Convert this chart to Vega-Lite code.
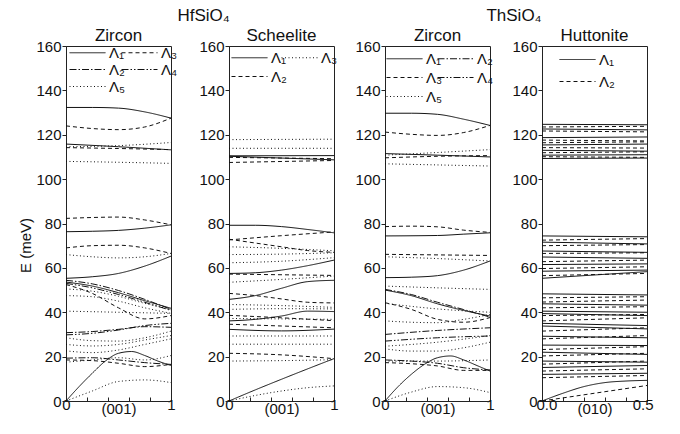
{
  "$schema": "https://vega.github.io/schema/vega-lite/v6.json",
  "padding": {"left": 18, "top": 6, "right": 5, "bottom": 5},
  "config": {
    "font": "Liberation Sans",
    "view": {"stroke": "#222", "strokeWidth": 1},
    "axis": {"grid": false, "domainColor": "#222", "tickColor": "#222", "labelColor": "#111", "labelFontSize": 15, "labelFlush": false, "labelOverlap": false, "titleFontWeight": "normal", "titleFontSize": 15, "titleColor": "#111"},
    "title": {"fontSize": 17, "fontWeight": "normal", "color": "#111", "offset": -6},
    "legend": {"orient": "none", "title": null, "labelFontSize": 15, "labelColor": "#111", "symbolStrokeWidth": 1, "symbolStrokeColor": "#111", "symbolSize": 144, "labelOffset": 2, "rowPadding": 1, "symbolType": "M-5,0H1"},
    "line": {"color": "#111", "strokeWidth": 1, "interpolate": "monotone"}
  },
  "datasets": {
    "p1": [
      {"i":"a1","b":"Λ₁","k":0,"E":132.3},{"i":"a1","b":"Λ₁","k":0.25,"E":132.3},{"i":"a1","b":"Λ₁","k":0.5,"E":132},{"i":"a1","b":"Λ₁","k":0.75,"E":130.3},{"i":"a1","b":"Λ₁","k":1,"E":127.5},
      {"i":"a2","b":"Λ₃","k":0,"E":124},{"i":"a2","b":"Λ₃","k":0.25,"E":122.8},{"i":"a2","b":"Λ₃","k":0.5,"E":122.3},{"i":"a2","b":"Λ₃","k":0.75,"E":123.5},{"i":"a2","b":"Λ₃","k":1,"E":127.5},
      {"i":"a3","b":"Λ₁","k":0,"E":115.8},{"i":"a3","b":"Λ₁","k":0.5,"E":114.6},{"i":"a3","b":"Λ₁","k":1,"E":113.2},
      {"i":"a4","b":"Λ₃","k":0,"E":114.2},{"i":"a4","b":"Λ₃","k":0.5,"E":113.8},{"i":"a4","b":"Λ₃","k":1,"E":113.3},
      {"i":"a5","b":"Λ₅","k":0,"E":114.6},{"i":"a5","b":"Λ₅","k":0.5,"E":115.1},{"i":"a5","b":"Λ₅","k":1,"E":116.5},
      {"i":"a6","b":"Λ₅","k":0,"E":108},{"i":"a6","b":"Λ₅","k":0.5,"E":107.6},{"i":"a6","b":"Λ₅","k":1,"E":107.1},
      {"i":"a7","b":"Λ₃","k":0,"E":82.3},{"i":"a7","b":"Λ₃","k":0.25,"E":82.7},{"i":"a7","b":"Λ₃","k":0.5,"E":82.9},{"i":"a7","b":"Λ₃","k":0.75,"E":81.6},{"i":"a7","b":"Λ₃","k":1,"E":79.4},
      {"i":"a8","b":"Λ₁","k":0,"E":76.3},{"i":"a8","b":"Λ₁","k":0.25,"E":76.5},{"i":"a8","b":"Λ₁","k":0.5,"E":76.9},{"i":"a8","b":"Λ₁","k":0.75,"E":77.9},{"i":"a8","b":"Λ₁","k":1,"E":79.4},
      {"i":"a9","b":"Λ₃","k":0,"E":69},{"i":"a9","b":"Λ₃","k":0.25,"E":70},{"i":"a9","b":"Λ₃","k":0.5,"E":70.2},{"i":"a9","b":"Λ₃","k":0.75,"E":69},{"i":"a9","b":"Λ₃","k":1,"E":66.5},
      {"i":"a10","b":"Λ₅","k":0,"E":66},{"i":"a10","b":"Λ₅","k":0.25,"E":65},{"i":"a10","b":"Λ₅","k":0.5,"E":64.5},{"i":"a10","b":"Λ₅","k":0.75,"E":65},{"i":"a10","b":"Λ₅","k":1,"E":66.5},
      {"i":"a11","b":"Λ₁","k":0,"E":55.3},{"i":"a11","b":"Λ₁","k":0.25,"E":56},{"i":"a11","b":"Λ₁","k":0.5,"E":57.5},{"i":"a11","b":"Λ₁","k":0.75,"E":60.8},{"i":"a11","b":"Λ₁","k":1,"E":65.3},
      {"i":"a12","b":"Λ₁","k":0,"E":53.6},{"i":"a12","b":"Λ₁","k":0.25,"E":51.8},{"i":"a12","b":"Λ₁","k":0.5,"E":48.8},{"i":"a12","b":"Λ₁","k":0.75,"E":45.2},{"i":"a12","b":"Λ₁","k":1,"E":41.8},
      {"i":"a13","b":"Λ₂","k":0,"E":54.4},{"i":"a13","b":"Λ₂","k":0.25,"E":52.8},{"i":"a13","b":"Λ₂","k":0.5,"E":49.8},{"i":"a13","b":"Λ₂","k":0.75,"E":45.8},{"i":"a13","b":"Λ₂","k":1,"E":41.3},
      {"i":"a14","b":"Λ₃","k":0,"E":52.5},{"i":"a14","b":"Λ₃","k":0.25,"E":48.5},{"i":"a14","b":"Λ₃","k":0.5,"E":42},{"i":"a14","b":"Λ₃","k":0.75,"E":37},{"i":"a14","b":"Λ₃","k":1,"E":38.5},
      {"i":"a15","b":"Λ₅","k":0,"E":50.5},{"i":"a15","b":"Λ₅","k":0.25,"E":49.5},{"i":"a15","b":"Λ₅","k":0.5,"E":47.2},{"i":"a15","b":"Λ₅","k":0.75,"E":44},{"i":"a15","b":"Λ₅","k":1,"E":41.3},
      {"i":"a16","b":"Λ₄","k":0,"E":53},{"i":"a16","b":"Λ₄","k":0.25,"E":51},{"i":"a16","b":"Λ₄","k":0.5,"E":48},{"i":"a16","b":"Λ₄","k":0.75,"E":44.5},{"i":"a16","b":"Λ₄","k":1,"E":40.8},
      {"i":"a17","b":"Λ₅","k":0,"E":47.5},{"i":"a17","b":"Λ₅","k":0.25,"E":47},{"i":"a17","b":"Λ₅","k":0.5,"E":45},{"i":"a17","b":"Λ₅","k":0.75,"E":42},{"i":"a17","b":"Λ₅","k":1,"E":39.5},
      {"i":"a18","b":"Λ₅","k":0,"E":40.5},{"i":"a18","b":"Λ₅","k":0.5,"E":40},{"i":"a18","b":"Λ₅","k":1,"E":39.5},
      {"i":"a19","b":"Λ₂","k":0,"E":30.8},{"i":"a19","b":"Λ₂","k":0.25,"E":31.3},{"i":"a19","b":"Λ₂","k":0.5,"E":32.3},{"i":"a19","b":"Λ₂","k":0.75,"E":33.5},{"i":"a19","b":"Λ₂","k":1,"E":33.2},
      {"i":"a20","b":"Λ₄","k":0,"E":29.8},{"i":"a20","b":"Λ₄","k":0.25,"E":30.5},{"i":"a20","b":"Λ₄","k":0.5,"E":32},{"i":"a20","b":"Λ₄","k":0.75,"E":34},{"i":"a20","b":"Λ₄","k":1,"E":35},
      {"i":"a21","b":"Λ₅","k":0,"E":28.5},{"i":"a21","b":"Λ₅","k":0.25,"E":27.2},{"i":"a21","b":"Λ₅","k":0.5,"E":27},{"i":"a21","b":"Λ₅","k":0.75,"E":28.5},{"i":"a21","b":"Λ₅","k":1,"E":31.5},
      {"i":"a22","b":"Λ₅","k":0,"E":25.5},{"i":"a22","b":"Λ₅","k":0.25,"E":24.8},{"i":"a22","b":"Λ₅","k":0.5,"E":25.5},{"i":"a22","b":"Λ₅","k":0.75,"E":27.5},{"i":"a22","b":"Λ₅","k":1,"E":29.5},
      {"i":"a23","b":"Λ₅","k":0,"E":22.6},{"i":"a23","b":"Λ₅","k":0.25,"E":21.8},{"i":"a23","b":"Λ₅","k":0.5,"E":23},{"i":"a23","b":"Λ₅","k":0.75,"E":25.5},{"i":"a23","b":"Λ₅","k":1,"E":28},
      {"i":"a24","b":"Λ₃","k":0,"E":18.5},{"i":"a24","b":"Λ₃","k":0.25,"E":18.2},{"i":"a24","b":"Λ₃","k":0.5,"E":17},{"i":"a24","b":"Λ₃","k":0.75,"E":15.5},{"i":"a24","b":"Λ₃","k":1,"E":16.5},
      {"i":"a25","b":"Λ₂","k":0,"E":19.3},{"i":"a25","b":"Λ₂","k":0.25,"E":19.5},{"i":"a25","b":"Λ₂","k":0.5,"E":18.5},{"i":"a25","b":"Λ₂","k":0.75,"E":17.3},{"i":"a25","b":"Λ₂","k":1,"E":16.5},
      {"i":"a26","b":"Λ₅","k":0,"E":17.5},{"i":"a26","b":"Λ₅","k":0.25,"E":18.5},{"i":"a26","b":"Λ₅","k":0.5,"E":19.5},{"i":"a26","b":"Λ₅","k":0.75,"E":18.5},{"i":"a26","b":"Λ₅","k":1,"E":20.5},
      {"i":"a27","b":"Λ₁","k":0,"E":0},{"i":"a27","b":"Λ₁","k":0.125,"E":6.5},{"i":"a27","b":"Λ₁","k":0.25,"E":12.5},{"i":"a27","b":"Λ₁","k":0.375,"E":18},{"i":"a27","b":"Λ₁","k":0.5,"E":21.5},{"i":"a27","b":"Λ₁","k":0.625,"E":22.3},{"i":"a27","b":"Λ₁","k":0.75,"E":20.5},{"i":"a27","b":"Λ₁","k":0.875,"E":18},{"i":"a27","b":"Λ₁","k":1,"E":16},
      {"i":"a28","b":"Λ₅","k":0,"E":0},{"i":"a28","b":"Λ₅","k":0.25,"E":4.5},{"i":"a28","b":"Λ₅","k":0.5,"E":8.8},{"i":"a28","b":"Λ₅","k":0.75,"E":9.5},{"i":"a28","b":"Λ₅","k":1,"E":8.3}
    ],
    "p2": [
      {"i":"b1","b":"Λ₃","k":0,"E":117.8},{"i":"b1","b":"Λ₃","k":1,"E":118},
      {"i":"b2","b":"Λ₃","k":0,"E":113.9},{"i":"b2","b":"Λ₃","k":1,"E":113.9},
      {"i":"b3","b":"Λ₁","k":0,"E":110.5},{"i":"b3","b":"Λ₁","k":1,"E":110.6},
      {"i":"b4","b":"Λ₁","k":0,"E":110.3},{"i":"b4","b":"Λ₁","k":0.5,"E":109.5},{"i":"b4","b":"Λ₁","k":1,"E":108.7},
      {"i":"b5","b":"Λ₂","k":0,"E":109.8},{"i":"b5","b":"Λ₂","k":1,"E":109.2},
      {"i":"b6","b":"Λ₂","k":0,"E":107.5},{"i":"b6","b":"Λ₂","k":1,"E":108.4},
      {"i":"b7","b":"Λ₁","k":0,"E":79.2},{"i":"b7","b":"Λ₁","k":0.25,"E":79.2},{"i":"b7","b":"Λ₁","k":0.5,"E":78.6},{"i":"b7","b":"Λ₁","k":0.75,"E":77.3},{"i":"b7","b":"Λ₁","k":1,"E":75.8},
      {"i":"b8","b":"Λ₂","k":0,"E":72.6},{"i":"b8","b":"Λ₂","k":0.5,"E":74.5},{"i":"b8","b":"Λ₂","k":1,"E":76.2},
      {"i":"b9","b":"Λ₂","k":0,"E":72.9},{"i":"b9","b":"Λ₂","k":0.25,"E":71.2},{"i":"b9","b":"Λ₂","k":0.5,"E":69.5},{"i":"b9","b":"Λ₂","k":0.75,"E":67.8},{"i":"b9","b":"Λ₂","k":1,"E":67},
      {"i":"b10","b":"Λ₃","k":0,"E":69.5},{"i":"b10","b":"Λ₃","k":0.5,"E":68.8},{"i":"b10","b":"Λ₃","k":1,"E":67.7},
      {"i":"b11","b":"Λ₃","k":0,"E":66},{"i":"b11","b":"Λ₃","k":0.5,"E":66.2},{"i":"b11","b":"Λ₃","k":1,"E":66.8},
      {"i":"b12","b":"Λ₃","k":0,"E":62.3},{"i":"b12","b":"Λ₃","k":0.5,"E":63},{"i":"b12","b":"Λ₃","k":1,"E":64.6},
      {"i":"b13","b":"Λ₁","k":0,"E":57.5},{"i":"b13","b":"Λ₁","k":0.25,"E":57.8},{"i":"b13","b":"Λ₁","k":0.5,"E":59},{"i":"b13","b":"Λ₁","k":0.75,"E":61},{"i":"b13","b":"Λ₁","k":1,"E":63.5},
      {"i":"b14","b":"Λ₂","k":0,"E":57.2},{"i":"b14","b":"Λ₂","k":1,"E":56.6},
      {"i":"b15","b":"Λ₃","k":0,"E":53.5},{"i":"b15","b":"Λ₃","k":0.5,"E":54.8},{"i":"b15","b":"Λ₃","k":1,"E":56.3},
      {"i":"b16","b":"Λ₁","k":0,"E":45.8},{"i":"b16","b":"Λ₁","k":0.25,"E":47.5},{"i":"b16","b":"Λ₁","k":0.5,"E":50.8},{"i":"b16","b":"Λ₁","k":0.75,"E":53.8},{"i":"b16","b":"Λ₁","k":1,"E":54.4},
      {"i":"b17","b":"Λ₂","k":0,"E":48.5},{"i":"b17","b":"Λ₂","k":0.25,"E":47.5},{"i":"b17","b":"Λ₂","k":0.5,"E":46},{"i":"b17","b":"Λ₂","k":0.75,"E":44.5},{"i":"b17","b":"Λ₂","k":1,"E":44.2},
      {"i":"b18","b":"Λ₃","k":0,"E":43.5},{"i":"b18","b":"Λ₃","k":0.5,"E":43},{"i":"b18","b":"Λ₃","k":1,"E":42.2},
      {"i":"b19","b":"Λ₃","k":0,"E":41.3},{"i":"b19","b":"Λ₃","k":0.5,"E":41.6},{"i":"b19","b":"Λ₃","k":1,"E":41.5},
      {"i":"b20","b":"Λ₁","k":0,"E":36.1},{"i":"b20","b":"Λ₁","k":0.25,"E":36.8},{"i":"b20","b":"Λ₁","k":0.5,"E":38.3},{"i":"b20","b":"Λ₁","k":0.75,"E":40.5},{"i":"b20","b":"Λ₁","k":1,"E":40.3},
      {"i":"b21","b":"Λ₂","k":0,"E":38.6},{"i":"b21","b":"Λ₂","k":0.5,"E":37.5},{"i":"b21","b":"Λ₂","k":1,"E":36.2},
      {"i":"b22","b":"Λ₃","k":0,"E":37.2},{"i":"b22","b":"Λ₃","k":0.5,"E":37},{"i":"b22","b":"Λ₃","k":1,"E":36.8},
      {"i":"b23","b":"Λ₂","k":0,"E":34.6},{"i":"b23","b":"Λ₂","k":0.5,"E":33.8},{"i":"b23","b":"Λ₂","k":1,"E":33},
      {"i":"b24","b":"Λ₁","k":0,"E":32.3},{"i":"b24","b":"Λ₁","k":0.5,"E":31.6},{"i":"b24","b":"Λ₁","k":1,"E":32.4},
      {"i":"b25","b":"Λ₃","k":0,"E":29.3},{"i":"b25","b":"Λ₃","k":1,"E":29.3},
      {"i":"b26","b":"Λ₃","k":0,"E":25.6},{"i":"b26","b":"Λ₃","k":1,"E":25.6},
      {"i":"b27","b":"Λ₂","k":0,"E":21.5},{"i":"b27","b":"Λ₂","k":0.5,"E":20.8},{"i":"b27","b":"Λ₂","k":1,"E":19.1},
      {"i":"b28","b":"Λ₃","k":0,"E":18},{"i":"b28","b":"Λ₃","k":0.5,"E":18.2},{"i":"b28","b":"Λ₃","k":1,"E":18.6},
      {"i":"b29","b":"Λ₁","k":0,"E":0},{"i":"b29","b":"Λ₁","k":0.25,"E":5},{"i":"b29","b":"Λ₁","k":0.5,"E":9.8},{"i":"b29","b":"Λ₁","k":0.75,"E":14.5},{"i":"b29","b":"Λ₁","k":1,"E":19.1},
      {"i":"b30","b":"Λ₃","k":0,"E":0},{"i":"b30","b":"Λ₃","k":0.25,"E":2.5},{"i":"b30","b":"Λ₃","k":0.5,"E":4.5},{"i":"b30","b":"Λ₃","k":0.75,"E":6},{"i":"b30","b":"Λ₃","k":1,"E":6.8}
    ],
    "p3": [
      {"i":"c1","b":"Λ₁","k":0,"E":129.7},{"i":"c1","b":"Λ₁","k":0.25,"E":129.7},{"i":"c1","b":"Λ₁","k":0.5,"E":129.2},{"i":"c1","b":"Λ₁","k":0.75,"E":127},{"i":"c1","b":"Λ₁","k":1,"E":124.2},
      {"i":"c2","b":"Λ₃","k":0,"E":121.2},{"i":"c2","b":"Λ₃","k":0.25,"E":120.2},{"i":"c2","b":"Λ₃","k":0.5,"E":119.7},{"i":"c2","b":"Λ₃","k":0.75,"E":121},{"i":"c2","b":"Λ₃","k":1,"E":124.2},
      {"i":"c3","b":"Λ₁","k":0,"E":111.5},{"i":"c3","b":"Λ₁","k":0.5,"E":110.8},{"i":"c3","b":"Λ₁","k":1,"E":110},
      {"i":"c4","b":"Λ₃","k":0,"E":109.6},{"i":"c4","b":"Λ₃","k":0.5,"E":110.3},{"i":"c4","b":"Λ₃","k":1,"E":110.6},
      {"i":"c5","b":"Λ₅","k":0,"E":110.8},{"i":"c5","b":"Λ₅","k":0.5,"E":112},{"i":"c5","b":"Λ₅","k":1,"E":113.3},
      {"i":"c6","b":"Λ₅","k":0,"E":106.9},{"i":"c6","b":"Λ₅","k":0.5,"E":106.4},{"i":"c6","b":"Λ₅","k":1,"E":105.9},
      {"i":"c7","b":"Λ₃","k":0,"E":78.6},{"i":"c7","b":"Λ₃","k":0.25,"E":78.8},{"i":"c7","b":"Λ₃","k":0.5,"E":78.5},{"i":"c7","b":"Λ₃","k":0.75,"E":77},{"i":"c7","b":"Λ₃","k":1,"E":76},
      {"i":"c8","b":"Λ₁","k":0,"E":74.4},{"i":"c8","b":"Λ₁","k":0.5,"E":74.6},{"i":"c8","b":"Λ₁","k":0.75,"E":75.2},{"i":"c8","b":"Λ₁","k":1,"E":75.8},
      {"i":"c9","b":"Λ₃","k":0,"E":66.1},{"i":"c9","b":"Λ₃","k":1,"E":65.6},
      {"i":"c10","b":"Λ₅","k":0,"E":65},{"i":"c10","b":"Λ₅","k":0.5,"E":64.2},{"i":"c10","b":"Λ₅","k":1,"E":63.1},
      {"i":"c11","b":"Λ₁","k":0,"E":55.6},{"i":"c11","b":"Λ₁","k":0.25,"E":55.8},{"i":"c11","b":"Λ₁","k":0.5,"E":56.5},{"i":"c11","b":"Λ₁","k":0.75,"E":59},{"i":"c11","b":"Λ₁","k":1,"E":63.1},
      {"i":"c12","b":"Λ₅","k":0,"E":51.8},{"i":"c12","b":"Λ₅","k":0.5,"E":51},{"i":"c12","b":"Λ₅","k":1,"E":50.3},
      {"i":"c13","b":"Λ₁","k":0,"E":50},{"i":"c13","b":"Λ₁","k":0.25,"E":47.5},{"i":"c13","b":"Λ₁","k":0.5,"E":43.8},{"i":"c13","b":"Λ₁","k":0.75,"E":40.8},{"i":"c13","b":"Λ₁","k":1,"E":38.3},
      {"i":"c14","b":"Λ₂","k":0,"E":50.3},{"i":"c14","b":"Λ₂","k":0.25,"E":48},{"i":"c14","b":"Λ₂","k":0.5,"E":44.5},{"i":"c14","b":"Λ₂","k":0.75,"E":41.2},{"i":"c14","b":"Λ₂","k":1,"E":37.8},
      {"i":"c15","b":"Λ₃","k":0,"E":44.3},{"i":"c15","b":"Λ₃","k":0.25,"E":41.3},{"i":"c15","b":"Λ₃","k":0.5,"E":36.8},{"i":"c15","b":"Λ₃","k":0.75,"E":35.5},{"i":"c15","b":"Λ₃","k":1,"E":37.6},
      {"i":"c16","b":"Λ₅","k":0,"E":44},{"i":"c16","b":"Λ₅","k":0.5,"E":41.5},{"i":"c16","b":"Λ₅","k":1,"E":40},
      {"i":"c17","b":"Λ₅","k":0,"E":36.1},{"i":"c17","b":"Λ₅","k":0.25,"E":35.5},{"i":"c17","b":"Λ₅","k":0.5,"E":35.3},{"i":"c17","b":"Λ₅","k":0.75,"E":36.8},{"i":"c17","b":"Λ₅","k":1,"E":39},
      {"i":"c18","b":"Λ₂","k":0,"E":30},{"i":"c18","b":"Λ₂","k":0.5,"E":31.8},{"i":"c18","b":"Λ₂","k":1,"E":33},
      {"i":"c19","b":"Λ₄","k":0,"E":27},{"i":"c19","b":"Λ₄","k":0.5,"E":28.5},{"i":"c19","b":"Λ₄","k":1,"E":29.3},
      {"i":"c20","b":"Λ₅","k":0,"E":24.7},{"i":"c20","b":"Λ₅","k":0.5,"E":26.5},{"i":"c20","b":"Λ₅","k":1,"E":29.5},
      {"i":"c21","b":"Λ₅","k":0,"E":23.5},{"i":"c21","b":"Λ₅","k":0.25,"E":22.5},{"i":"c21","b":"Λ₅","k":0.5,"E":22.5},{"i":"c21","b":"Λ₅","k":0.75,"E":24},{"i":"c21","b":"Λ₅","k":1,"E":26.5},
      {"i":"c22","b":"Λ₃","k":0,"E":17.3},{"i":"c22","b":"Λ₃","k":0.25,"E":16.8},{"i":"c22","b":"Λ₃","k":0.5,"E":15.8},{"i":"c22","b":"Λ₃","k":0.75,"E":13.8},{"i":"c22","b":"Λ₃","k":1,"E":13.8},
      {"i":"c23","b":"Λ₂","k":0,"E":18.5},{"i":"c23","b":"Λ₂","k":0.25,"E":18},{"i":"c23","b":"Λ₂","k":0.5,"E":17},{"i":"c23","b":"Λ₂","k":0.75,"E":15},{"i":"c23","b":"Λ₂","k":1,"E":14},
      {"i":"c24","b":"Λ₅","k":0,"E":18},{"i":"c24","b":"Λ₅","k":0.5,"E":18},{"i":"c24","b":"Λ₅","k":1,"E":18.5},
      {"i":"c25","b":"Λ₁","k":0,"E":0},{"i":"c25","b":"Λ₁","k":0.125,"E":6.5},{"i":"c25","b":"Λ₁","k":0.25,"E":12},{"i":"c25","b":"Λ₁","k":0.375,"E":16.5},{"i":"c25","b":"Λ₁","k":0.5,"E":19.5},{"i":"c25","b":"Λ₁","k":0.625,"E":20.3},{"i":"c25","b":"Λ₁","k":0.75,"E":18.5},{"i":"c25","b":"Λ₁","k":0.875,"E":16},{"i":"c25","b":"Λ₁","k":1,"E":13.5},
      {"i":"c26","b":"Λ₅","k":0,"E":0},{"i":"c26","b":"Λ₅","k":0.25,"E":4},{"i":"c26","b":"Λ₅","k":0.5,"E":6.5},{"i":"c26","b":"Λ₅","k":0.75,"E":6},{"i":"c26","b":"Λ₅","k":1,"E":3.8}
    ],
    "p4": [
      {"i":"d1","b":"Λ₁","k":0,"E":124.7},{"i":"d1","b":"Λ₁","k":0.5,"E":124.5},
      {"i":"d2","b":"Λ₂","k":0,"E":123.5},{"i":"d2","b":"Λ₂","k":0.5,"E":123.8},
      {"i":"d3","b":"Λ₁","k":0,"E":122.6},{"i":"d3","b":"Λ₁","k":0.5,"E":122.2},
      {"i":"d4","b":"Λ₂","k":0,"E":121.7},{"i":"d4","b":"Λ₂","k":0.5,"E":121.3},
      {"i":"d5","b":"Λ₁","k":0,"E":118.7},{"i":"d5","b":"Λ₁","k":0.5,"E":119},
      {"i":"d6","b":"Λ₂","k":0,"E":117.6},{"i":"d6","b":"Λ₂","k":0.5,"E":117.2},
      {"i":"d7","b":"Λ₂","k":0,"E":116.4},{"i":"d7","b":"Λ₂","k":0.5,"E":116.8},
      {"i":"d8","b":"Λ₁","k":0,"E":115.4},{"i":"d8","b":"Λ₁","k":0.5,"E":115.8},
      {"i":"d9","b":"Λ₂","k":0,"E":114.2},{"i":"d9","b":"Λ₂","k":0.5,"E":114},
      {"i":"d10","b":"Λ₁","k":0,"E":113},{"i":"d10","b":"Λ₁","k":0.5,"E":112.6},
      {"i":"d11","b":"Λ₂","k":0,"E":111.9},{"i":"d11","b":"Λ₂","k":0.5,"E":112.3},
      {"i":"d12","b":"Λ₁","k":0,"E":110.8},{"i":"d12","b":"Λ₁","k":0.5,"E":111},
      {"i":"d13","b":"Λ₂","k":0,"E":110.1},{"i":"d13","b":"Λ₂","k":0.5,"E":109.8},
      {"i":"d14","b":"Λ₁","k":0,"E":109.3},{"i":"d14","b":"Λ₁","k":0.5,"E":109.5},
      {"i":"e1","b":"Λ₁","k":0,"E":74.4},{"i":"e1","b":"Λ₁","k":0.5,"E":74},
      {"i":"e2","b":"Λ₂","k":0,"E":72.5},{"i":"e2","b":"Λ₂","k":0.5,"E":73.2},
      {"i":"e3","b":"Λ₁","k":0,"E":71.6},{"i":"e3","b":"Λ₁","k":0.5,"E":70.8},
      {"i":"e4","b":"Λ₂","k":0,"E":70},{"i":"e4","b":"Λ₂","k":0.5,"E":70.5},
      {"i":"e5","b":"Λ₁","k":0,"E":67.6},{"i":"e5","b":"Λ₁","k":0.5,"E":67},
      {"i":"e6","b":"Λ₂","k":0,"E":66.5},{"i":"e6","b":"Λ₂","k":0.5,"E":66.8},
      {"i":"e7","b":"Λ₁","k":0,"E":64.9},{"i":"e7","b":"Λ₁","k":0.5,"E":64.3},
      {"i":"e8","b":"Λ₂","k":0,"E":62.8},{"i":"e8","b":"Λ₂","k":0.5,"E":63.5},
      {"i":"e9","b":"Λ₁","k":0,"E":61.5},{"i":"e9","b":"Λ₁","k":0.5,"E":61.8},
      {"i":"e10","b":"Λ₂","k":0,"E":59.7},{"i":"e10","b":"Λ₂","k":0.5,"E":60.5},
      {"i":"e11","b":"Λ₁","k":0,"E":58.5},{"i":"e11","b":"Λ₁","k":0.5,"E":59},
      {"i":"e12","b":"Λ₁","k":0,"E":55.3},{"i":"e12","b":"Λ₁","k":0.5,"E":58.3},
      {"i":"e13","b":"Λ₂","k":0,"E":56.5},{"i":"e13","b":"Λ₂","k":0.5,"E":57.5},
      {"i":"e14","b":"Λ₁","k":0,"E":48.3},{"i":"e14","b":"Λ₁","k":0.5,"E":47.8},
      {"i":"e15","b":"Λ₂","k":0,"E":46.5},{"i":"e15","b":"Λ₂","k":0.5,"E":47},
      {"i":"e16","b":"Λ₂","k":0,"E":44.6},{"i":"e16","b":"Λ₂","k":0.5,"E":45.5},
      {"i":"e17","b":"Λ₁","k":0,"E":43.8},{"i":"e17","b":"Λ₁","k":0.5,"E":43.2},
      {"i":"e18","b":"Λ₂","k":0,"E":42},{"i":"e18","b":"Λ₂","k":0.5,"E":42.5},
      {"i":"e19","b":"Λ₁","k":0,"E":40.5},{"i":"e19","b":"Λ₁","k":0.5,"E":40},
      {"i":"e20","b":"Λ₁","k":0,"E":39.4},{"i":"e20","b":"Λ₁","k":0.5,"E":38.5},
      {"i":"e21","b":"Λ₂","k":0,"E":38.5},{"i":"e21","b":"Λ₂","k":0.5,"E":39},
      {"i":"e22","b":"Λ₂","k":0,"E":36.1},{"i":"e22","b":"Λ₂","k":0.5,"E":37.5},
      {"i":"e23","b":"Λ₁","k":0,"E":35},{"i":"e23","b":"Λ₁","k":0.5,"E":34},
      {"i":"e24","b":"Λ₁","k":0,"E":33.8},{"i":"e24","b":"Λ₁","k":0.5,"E":32.5},
      {"i":"e25","b":"Λ₂","k":0,"E":31.5},{"i":"e25","b":"Λ₂","k":0.5,"E":33},
      {"i":"e26","b":"Λ₁","k":0,"E":29.2},{"i":"e26","b":"Λ₁","k":0.5,"E":28.5},
      {"i":"e27","b":"Λ₂","k":0,"E":28},{"i":"e27","b":"Λ₂","k":0.5,"E":29.5},
      {"i":"e28","b":"Λ₁","k":0,"E":25.2},{"i":"e28","b":"Λ₁","k":0.5,"E":25},
      {"i":"e29","b":"Λ₂","k":0,"E":23.2},{"i":"e29","b":"Λ₂","k":0.5,"E":24.5},
      {"i":"e30","b":"Λ₁","k":0,"E":22},{"i":"e30","b":"Λ₁","k":0.5,"E":21},
      {"i":"e31","b":"Λ₂","k":0,"E":20.3},{"i":"e31","b":"Λ₂","k":0.5,"E":21.5},
      {"i":"e32","b":"Λ₁","k":0,"E":18},{"i":"e32","b":"Λ₁","k":0.5,"E":17.5},
      {"i":"e33","b":"Λ₂","k":0,"E":16.6},{"i":"e33","b":"Λ₂","k":0.5,"E":18},
      {"i":"e34","b":"Λ₁","k":0,"E":15.1},{"i":"e34","b":"Λ₁","k":0.5,"E":16},
      {"i":"e35","b":"Λ₂","k":0,"E":13.5},{"i":"e35","b":"Λ₂","k":0.5,"E":14.5},
      {"i":"e36","b":"Λ₁","k":0,"E":12},{"i":"e36","b":"Λ₁","k":0.5,"E":12.5},
      {"i":"e37","b":"Λ₂","k":0,"E":10.5},{"i":"e37","b":"Λ₂","k":0.5,"E":11.5},
      {"i":"e38","b":"Λ₁","k":0,"E":0},{"i":"e38","b":"Λ₁","k":0.1,"E":3.5},{"i":"e38","b":"Λ₁","k":0.2,"E":6.5},{"i":"e38","b":"Λ₁","k":0.3,"E":8.3},{"i":"e38","b":"Λ₁","k":0.4,"E":9},{"i":"e38","b":"Λ₁","k":0.5,"E":9.3},
      {"i":"e39","b":"Λ₂","k":0,"E":0},{"i":"e39","b":"Λ₂","k":0.25,"E":3.5},{"i":"e39","b":"Λ₂","k":0.5,"E":7}
    ]
  },
  "resolve": {"scale": {"strokeDash": "independent"}, "legend": {"strokeDash": "independent"}},
  "spacing": 15,
  "hconcat": [
    {
      "title": {"text": "HfSiO₄", "anchor": "middle", "dx": 25, "offset": 2},
      "spacing": 19,
      "resolve": {"scale": {"strokeDash": "independent"}, "legend": {"strokeDash": "independent"}},
      "hconcat": [
        {
          "width": 105, "height": 355,
          "title": "Zircon",
          "data": {"name": "p1"},
          "mark": {"type": "line"},
          "encoding": {
            "x": {"field": "k", "type": "quantitative", "scale": {"domain": [0, 1], "nice": false},
                  "axis": {"values": [0, 0.2, 0.4, 0.6, 0.8, 1], "labelExpr": "datum.value==0?'0':datum.value==1?'1':''", "tickSize": -4, "labelPadding": 0, "title": "(001)", "titlePadding": -11}},
            "y": {"field": "E", "type": "quantitative", "scale": {"domain": [0, 160], "nice": false},
                  "axis": {"values": [0, 20, 40, 60, 80, 100, 120, 140, 160], "tickSize": 4, "labelPadding": 1, "title": "E (meV)", "titlePadding": 2, "titleY": 199}},
            "detail": {"field": "i"},
            "strokeDash": {"field": "b", "type": "nominal",
                           "scale": {"domain": ["Λ₁", "Λ₂", "Λ₅", "Λ₃", "Λ₄"], "range": [[1, 0], [7, 2, 1.5, 2], [1, 2.5], [4, 3], [7, 2, 1.5, 2, 1.5, 2]]},
                           "legend": {"columns": 2, "legendX": 26, "legendY": -1, "columnPadding": -7, "rowPadding": 1, "symbolType": "M-5,0H1", "symbolSize": 144}}
          }
        },
        {
          "width": 105, "height": 355,
          "title": "Scheelite",
          "data": {"name": "p2"},
          "mark": {"type": "line"},
          "encoding": {
            "x": {"field": "k", "type": "quantitative", "scale": {"domain": [0, 1], "nice": false},
                  "axis": {"values": [0, 0.2, 0.4, 0.6, 0.8, 1], "labelExpr": "datum.value==0?'0':datum.value==1?'1':''", "tickSize": -4, "labelPadding": 0, "title": "(001)", "titlePadding": -11}},
            "y": {"field": "E", "type": "quantitative", "scale": {"domain": [0, 160], "nice": false},
                  "axis": {"values": [0, 20, 40, 60, 80, 100, 120, 140, 160], "tickSize": 4, "labelPadding": 1, "title": null}},
            "detail": {"field": "i"},
            "strokeDash": {"field": "b", "type": "nominal",
                           "scale": {"domain": ["Λ₁", "Λ₂", "Λ₃"], "range": [[1, 0], [4, 3], [1, 2.5]]},
                           "legend": {"columns": 2, "legendX": 25, "legendY": 4, "columnPadding": -8, "rowPadding": 3, "symbolType": "M-5,0H1", "symbolSize": 144}}
          }
        }
      ]
    },
    {
      "title": {"text": "ThSiO₄", "anchor": "middle", "dx": 10, "offset": 2},
      "spacing": 16,
      "resolve": {"scale": {"strokeDash": "independent"}, "legend": {"strokeDash": "independent"}},
      "hconcat": [
        {
          "width": 105, "height": 355,
          "title": "Zircon",
          "data": {"name": "p3"},
          "mark": {"type": "line"},
          "encoding": {
            "x": {"field": "k", "type": "quantitative", "scale": {"domain": [0, 1], "nice": false},
                  "axis": {"values": [0, 0.2, 0.4, 0.6, 0.8, 1], "labelExpr": "datum.value==0?'0':datum.value==1?'1':''", "tickSize": -4, "labelPadding": 0, "title": "(001)", "titlePadding": -11}},
            "y": {"field": "E", "type": "quantitative", "scale": {"domain": [0, 160], "nice": false},
                  "axis": {"values": [0, 20, 40, 60, 80, 100, 120, 140, 160], "tickSize": 4, "labelPadding": 1, "title": null}},
            "detail": {"field": "i"},
            "strokeDash": {"field": "b", "type": "nominal",
                           "scale": {"domain": ["Λ₁", "Λ₃", "Λ₅", "Λ₂", "Λ₄"], "range": [[1, 0], [4, 3], [1, 2.5], [7, 2, 1.5, 2], [7, 2, 1.5, 2, 1.5, 2]]},
                           "legend": {"columns": 2, "legendX": 24, "legendY": 5, "columnPadding": -8, "rowPadding": 3, "symbolType": "M-5,0H1", "symbolSize": 144}}
          }
        },
        {
          "width": 105, "height": 355,
          "title": "Huttonite",
          "data": {"name": "p4"},
          "mark": {"type": "line"},
          "encoding": {
            "x": {"field": "k", "type": "quantitative", "scale": {"domain": [0, 0.5], "nice": false},
                  "axis": {"values": [0, 0.1, 0.2, 0.3, 0.4, 0.5], "labelExpr": "datum.value==0?'0.0':datum.value==0.5?'0.5':''", "labelFlush": true, "labelFlushOffset": 6, "tickSize": -4, "labelPadding": 0, "title": "(010)", "titlePadding": -11}},
            "y": {"field": "E", "type": "quantitative", "scale": {"domain": [0, 160], "nice": false},
                  "axis": {"values": [0, 20, 40, 60, 80, 100, 120, 140, 160], "tickSize": 4, "labelPadding": 1, "title": null}},
            "detail": {"field": "i"},
            "strokeDash": {"field": "b", "type": "nominal",
                           "scale": {"domain": ["Λ₁", "Λ₂"], "range": [[1, 0], [4, 3]]},
                           "legend": {"columns": 1, "legendX": 40, "legendY": 6, "rowPadding": 6, "symbolType": "M-5,0H1", "symbolSize": 144}}
          }
        }
      ]
    }
  ]
}
